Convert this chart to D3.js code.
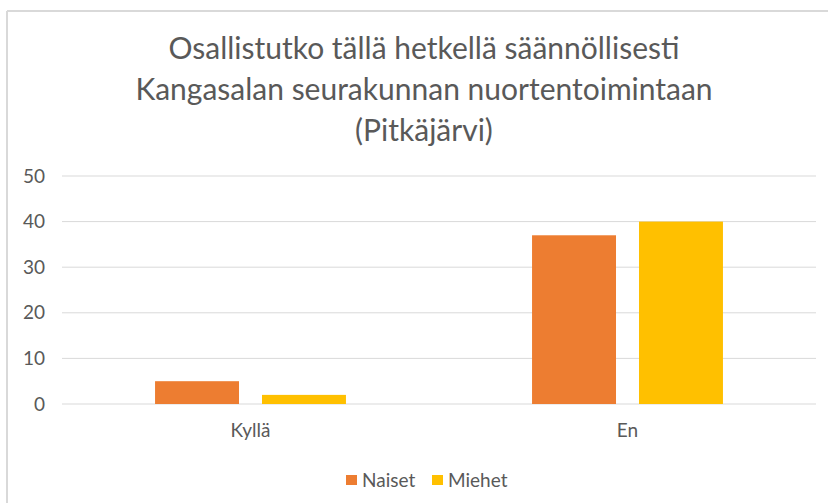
<!DOCTYPE html>
<html>
<head>
<meta charset="utf-8">
<script src="https://cdn.jsdelivr.net/npm/d3@7"></script>
<style>
  body { margin: 0; background: #fff; }
  text { font-family: Lato, "Open Sans", sans-serif; fill: #595959; }
</style>
</head>
<body>
<svg id="chart" width="828" height="503"></svg>
<script>
// chart data
const categories = ['Kyllä', 'En'];
const seriesNames = ['Naiset', 'Miehet'];
const naiset = [5, 37];
const miehet = [2, 40];
const yTicks = [0, 10, 20, 30, 40, 50];
const titleLines = [
  'Osallistutko tällä hetkellä säännöllisesti',
  'Kangasalan seurakunnan nuortentoimintaan',
  '(Pitkäjärvi)'
];

const colors = ['#ED7D31', '#FFC000'];
const width = 828, height = 503;
const margin = { top: 176, right: 12, bottom: 99, left: 62 };

const svg = d3.select('#chart');

// frame of the chart area (only top and left edges show)
svg.append('line').attr('x1', 7).attr('x2', width).attr('y1', 11).attr('y2', 11)
  .attr('stroke', '#D9D9D9').attr('stroke-width', 2);
svg.append('line').attr('x1', 7).attr('x2', 7).attr('y1', 11).attr('y2', height)
  .attr('stroke', '#D9D9D9').attr('stroke-width', 2);

// title
svg.append('g').selectAll('text')
  .data(titleLines)
  .join('text')
  .attr('x', 424)
  .attr('y', (d, i) => 59 + i * 41)
  .attr('text-anchor', 'middle')
  .style('font-size', '30px')
  .text(d => d);

let x0 = d3.scaleBand()
  .domain(categories)
  .range([margin.left, width - margin.right]);

let x1 = d3.scaleBand()
  .domain(seriesNames)
  .range([0, x0.bandwidth()])
  .paddingInner(0.215)
  .paddingOuter(0.87);

let y = d3.scaleLinear()
  .domain([0, 50])
  .range([height - margin.bottom, margin.top]);

// gridlines
svg.append('g')
  .selectAll('line')
  .data(yTicks)
  .join('line')
  .attr('x1', margin.left)
  .attr('x2', width - margin.right)
  .attr('y1', d => y(d))
  .attr('y2', d => y(d))
  .attr('stroke', '#D9D9D9')
  .attr('stroke-width', 1);

// y axis labels
let yAxis = d3.axisLeft(y).tickValues(yTicks).tickSize(0).tickPadding(17);
let gy = svg.append('g')
  .attr('transform', `translate(${margin.left}, 0)`)
  .call(yAxis);
gy.select('.domain').remove();
gy.selectAll('text').style('font-size', '19px').attr('fill', '#595959');

// bars
const rows = categories.map((c, i) => ({ cat: c, values: [naiset[i], miehet[i]] }));
svg.append('g')
  .selectAll('g')
  .data(rows)
  .join('g')
  .attr('transform', d => `translate(${x0(d.cat)}, 0)`)
  .selectAll('rect')
  .data(d => d.values.map((v, i) => ({ key: seriesNames[i], value: v, idx: i })))
  .join('rect')
  .attr('x', d => x1(d.key))
  .attr('width', x1.bandwidth())
  .attr('y', d => y(d.value))
  .attr('height', d => y(0) - y(d.value))
  .attr('fill', d => colors[d.idx]);

// x axis labels
let xAxis = d3.axisBottom(x0).tickSize(0).tickPadding(20);
let gx = svg.append('g')
  .attr('transform', `translate(0, ${y(0)})`)
  .call(xAxis);
gx.select('.domain').remove();
gx.selectAll('text').style('font-size', '19px').attr('fill', '#595959');

// legend
const legendX = [346, 432];
const legend = svg.append('g').selectAll('g')
  .data(seriesNames)
  .join('g')
  .attr('transform', (d, i) => `translate(${legendX[i]}, 475)`);
legend.append('rect')
  .attr('width', 11).attr('height', 10)
  .attr('fill', (d, i) => colors[i]);
legend.append('text')
  .attr('x', 16).attr('y', 12)
  .style('font-size', '19px')
  .text(d => d);
</script>
</body>
</html>
